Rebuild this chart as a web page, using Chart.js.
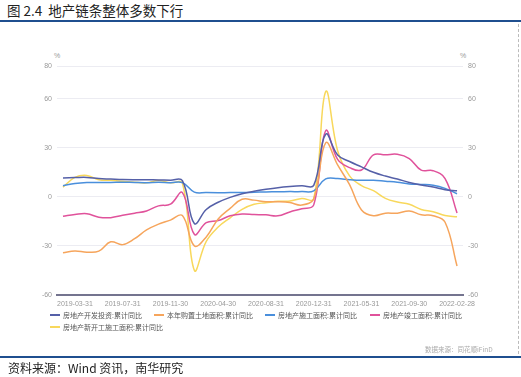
<!DOCTYPE html>
<html lang="zh">
<head>
  <meta charset="UTF-8">
  <title>地产链条整体多数下行</title>
  <script src="https://cdn.jsdelivr.net/npm/chart.js"></script>
  <style>
    body { margin: 0; background: #fff; }
    #wrap { position: relative; width: 521px; height: 377px; overflow: hidden; font-family: "Noto Sans CJK SC", "Liberation Sans", sans-serif; }
    #chart { position: absolute; left: 0; top: 0; }
    .abs { position: absolute; white-space: nowrap; }
    #title { left: 7px; top: 1px; font-size: 13.5px; color: #222; line-height: 18px; }
    .rule { position: absolute; left: 0; width: 521px; height: 2px; background: #1f4f8f; }
    #source { left: 8px; top: 360px; font-size: 12px; color: #222; line-height: 16px; }
    #frame { position: absolute; left: 518px; top: 24px; height: 330px; border-left: 1px dashed #bbb; }
    .pct { font-family: "Liberation Sans", sans-serif; font-size: 7px; color: #999; top: 52px; }
    #wind { left: 425px; top: 344px; font-size: 6.5px; color: #aaa; }
    .leg { position: absolute; font-size: 7px; color: #555; line-height: 9px; white-space: nowrap; }
    .leg i { display: inline-block; width: 10px; height: 2px; vertical-align: middle; margin-right: 3px; position: relative; top: -1px; }
  </style>
</head>
<body>
<div id="wrap">
  <div id="title" class="abs">图 2.4&nbsp;&nbsp;地产链条整体多数下行</div>
  <div class="rule" style="top:20px"></div>
  <div id="frame"></div>
  <div class="abs pct" style="left:54px">%</div>
  <div class="abs pct" style="left:460px">%</div>
  <canvas id="chart" width="521" height="377"></canvas>
  <div id="legend"></div>
  <div id="wind" class="abs">数据来源：同花顺iFinD</div>
  <div class="rule" style="top:356px"></div>
  <div id="source" class="abs">资料来源：Wind 资讯，南华研究</div>
</div>

<script>
  // monthly cumulative data (no January releases)
  const dates = ['2019-02-28','2019-03-31','2019-04-30','2019-05-31','2019-06-30','2019-07-31','2019-08-31','2019-09-30','2019-10-31','2019-11-30','2019-12-31',
    '2020-02-29','2020-03-31','2020-04-30','2020-05-31','2020-06-30','2020-07-31','2020-08-31','2020-09-30','2020-10-31','2020-11-30','2020-12-31',
    '2021-02-28','2021-03-31','2021-04-30','2021-05-31','2021-06-30','2021-07-31','2021-08-31','2021-09-30','2021-10-31','2021-11-30','2021-12-31',
    '2022-02-28'];
  const shownTicks = ['2019-03-31','2019-07-31','2019-11-30','2020-04-30','2020-08-31','2020-12-31','2021-05-31','2021-09-30','2022-02-28'];
  const yTicks = [-60, -30, 0, 30, 60, 80];

  const investment = [11.6, 11.8, 11.9, 11.2, 10.9, 10.6, 10.5, 10.5, 10.3, 10.2, 9.9,
    -16.3, -7.7, -3.3, -0.3, 1.9, 3.4, 4.6, 5.6, 6.3, 6.8, 7.0,
    38.3, 25.6, 21.6, 18.3, 15.0, 12.7, 10.9, 8.8, 7.2, 6.0, 4.4, 3.7];
  const landPurchase = [-34.1, -33.1, -33.8, -33.2, -27.5, -29.2, -25.6, -20.2, -16.7, -14.2, -11.4,
    -30.0, -24.5, -13.5, -7.0, -1.5, -2.0, -3.0, -3.0, -3.5, -5.0, -1.1,
    33.0, 19.5, 7.5, -8.0, -11.5, -10.0, -10.0, -8.6, -11.0, -11.5, -15.5, -42.3];
  const underConstruction = [6.8, 8.2, 8.8, 8.8, 8.8, 9.0, 8.8, 8.7, 9.0, 8.7, 8.7,
    2.9, 2.6, 2.5, 2.6, 2.6, 2.8, 3.0, 3.1, 3.2, 3.2, 3.7,
    11.0, 11.2, 10.5, 10.1, 10.2, 9.6, 9.0, 7.9, 7.6, 7.1, 5.2, 1.9];
  const completed = [-11.9, -10.8, -10.3, -12.4, -12.7, -11.3, -10.0, -8.6, -5.5, -4.5, 2.6,
    -22.9, -15.8, -14.5, -11.6, -10.5, -10.8, -11.0, -11.6, -9.2, -7.3, -4.9,
    40.4, 22.9, 17.9, 16.4, 25.7, 25.7, 26.0, 23.4, 16.3, 16.0, 11.2, -9.8];
  const newStarts = [6.0, 11.9, 13.1, 10.5, 10.1, 9.5, 8.9, 8.6, 10.0, 8.6, 8.5,
    -44.9, -27.2, -18.4, -12.8, -7.6, -4.5, -3.6, -2.7, -2.6, -1.0, -1.2,
    64.3, 28.2, 12.8, 6.9, 3.8, -0.9, -3.2, -4.5, -7.7, -9.1, -11.4, -12.2];

  const seriesNames = ['房地产开发投资:累计同比', '本年购置土地面积:累计同比', '房地产施工面积:累计同比', '房地产竣工面积:累计同比', '房地产新开工施工面积:累计同比'];
  const seriesColors = ['#5560a8', '#f6a55c', '#4a8fdc', '#e0529b', '#f8d85c'];
  const seriesData = [investment, landPurchase, underConstruction, completed, newStarts];

  // html legend, laid out like the original (4 + 1)
  const legendPos = [[50, 311], [154, 311], [265, 311], [370, 311], [50, 323]];
  const legend = document.getElementById('legend');
  seriesNames.forEach((name, i) => {
    const d = document.createElement('div');
    d.className = 'leg';
    d.style.left = legendPos[i][0] + 'px';
    d.style.top = legendPos[i][1] + 'px';
    d.innerHTML = '<i style="background:' + seriesColors[i] + '"></i>' + name;
    legend.appendChild(d);
  });

  Chart.defaults.font.family = '"Liberation Sans", Arial, sans-serif';
  Chart.defaults.font.size = 7;
  Chart.defaults.color = '#999';

  const setTicks = axis => { axis.ticks = yTicks.map(v => ({ value: v })); };

  new Chart(document.getElementById('chart'), {
    type: 'line',
    data: {
      labels: dates,
      datasets: seriesData.map((d, i) => ({
        label: seriesNames[i],
        data: d,
        borderColor: seriesColors[i],
        borderWidth: 1.5,
        pointRadius: 0,
        tension: 0.4,
        fill: false,
        yAxisID: 'y'
      }))
    },
    options: {
      responsive: false,
      animation: false,
      devicePixelRatio: 1,
      layout: { padding: { top: 66, bottom: 62, left: 0, right: 0 } },
      plugins: { legend: { display: false }, tooltip: { enabled: false } },
      scales: {
        x: {
          offset: true,
          grid: { display: false, drawTicks: false },
          border: { display: true, color: '#74748f', width: 2 },
          ticks: {
            autoSkip: false,
            maxRotation: 0,
            padding: 5,
            callback: function (val, idx) {
              const lab = this.getLabelForValue(val);
              return shownTicks.includes(lab) ? lab : '';
            }
          },
          afterFit: s => { s.height = 20; }
        },
        y: {
          position: 'left',
          min: -60, max: 80,
          afterBuildTicks: setTicks,
          grid: {
            drawTicks: false,
            color: c => c.tick && c.tick.value === -60 ? 'rgba(0,0,0,0)' : '#ececf2',
            lineWidth: 1
          },
          border: { display: false },
          ticks: { padding: 5 },
          afterFit: s => { s.width = 57; }
        },
        y2: {
          position: 'right',
          min: -60, max: 80,
          afterBuildTicks: setTicks,
          grid: { display: false, drawTicks: false },
          border: { display: false },
          ticks: { padding: 5 },
          afterFit: s => { s.width = 58; }
        }
      }
    }
  });
</script>
</body>
</html>
